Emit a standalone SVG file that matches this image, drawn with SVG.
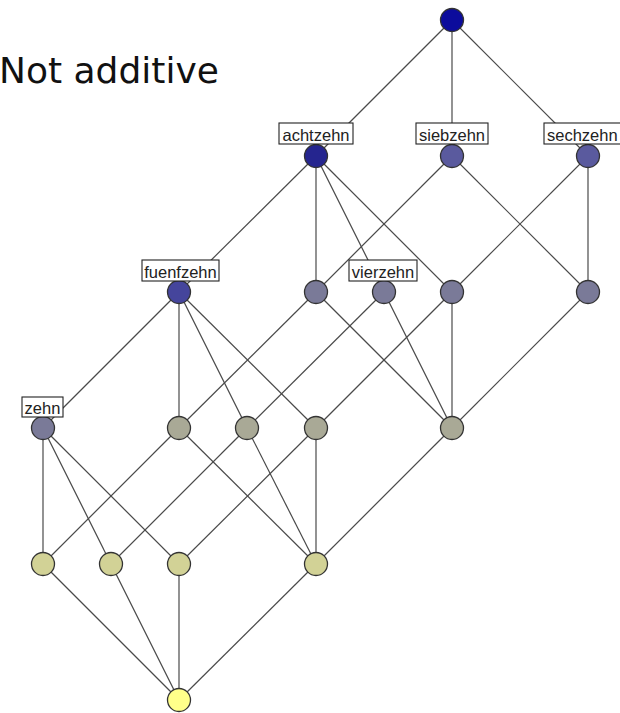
<svg xmlns="http://www.w3.org/2000/svg" width="620" height="713" viewBox="0 0 620 713">
  <style>
    .edge { stroke: #4a4a4a; stroke-width: 1.2; fill: none; }
    .node { stroke: #333333; stroke-width: 1.3; }
    .lbl-box { fill: #ffffff; stroke: #222222; stroke-width: 1.1; }
    .lbl { font-family: "Liberation Sans", Arial, sans-serif; font-size: 16.5px; fill: #222222; text-anchor: middle; }
    .title { font-family: "DejaVu Sans", Verdana, sans-serif; font-size: 36px; fill: #111111; }
    .c0 { fill: #0c0c9c; }
    .c1 { fill: #25258f; }
    .c2 { fill: #45459c; }
    .c3 { fill: #5a5a9e; }
    .c4 { fill: #7a7a98; }
    .c5 { fill: #a9a996; }
    .c6 { fill: #d2d296; }
    .c7 { fill: #ffff8a; }
  </style>
  <rect width="620" height="713" fill="#ffffff"/>

  <text class="title" x="-1" y="83">Not additive</text>

  <g id="connectors">
    <!-- top to first level -->
    <line class="edge" x1="452" y1="20" x2="316" y2="156"/>
    <line class="edge" x1="452" y1="20" x2="452" y2="156"/>
    <line class="edge" x1="452" y1="20" x2="588" y2="156"/>
    <!-- first level to second level -->
    <line class="edge" x1="316" y1="156" x2="179" y2="292"/>
    <line class="edge" x1="316" y1="156" x2="316" y2="292"/>
    <line class="edge" x1="316" y1="156" x2="384" y2="292"/>
    <line class="edge" x1="316" y1="156" x2="452" y2="292"/>
    <line class="edge" x1="452" y1="156" x2="316" y2="292"/>
    <line class="edge" x1="452" y1="156" x2="588" y2="292"/>
    <line class="edge" x1="588" y1="156" x2="452" y2="292"/>
    <line class="edge" x1="588" y1="156" x2="588" y2="292"/>
    <!-- second level to third level -->
    <line class="edge" x1="179" y1="292" x2="43" y2="428"/>
    <line class="edge" x1="179" y1="292" x2="179" y2="428"/>
    <line class="edge" x1="179" y1="292" x2="247" y2="428"/>
    <line class="edge" x1="179" y1="292" x2="316" y2="428"/>
    <line class="edge" x1="316" y1="292" x2="179" y2="428"/>
    <line class="edge" x1="316" y1="292" x2="452" y2="428"/>
    <line class="edge" x1="384" y1="292" x2="247" y2="428"/>
    <line class="edge" x1="384" y1="292" x2="452" y2="428"/>
    <line class="edge" x1="452" y1="292" x2="316" y2="428"/>
    <line class="edge" x1="452" y1="292" x2="452" y2="428"/>
    <line class="edge" x1="588" y1="292" x2="452" y2="428"/>
    <!-- third level to fourth level -->
    <line class="edge" x1="43" y1="428" x2="43" y2="564"/>
    <line class="edge" x1="43" y1="428" x2="111" y2="564"/>
    <line class="edge" x1="43" y1="428" x2="179" y2="564"/>
    <line class="edge" x1="179" y1="428" x2="43" y2="564"/>
    <line class="edge" x1="179" y1="428" x2="316" y2="564"/>
    <line class="edge" x1="247" y1="428" x2="111" y2="564"/>
    <line class="edge" x1="247" y1="428" x2="316" y2="564"/>
    <line class="edge" x1="316" y1="428" x2="179" y2="564"/>
    <line class="edge" x1="316" y1="428" x2="316" y2="564"/>
    <line class="edge" x1="452" y1="428" x2="316" y2="564"/>
    <!-- fourth level to bottom -->
    <line class="edge" x1="43" y1="564" x2="179" y2="700"/>
    <line class="edge" x1="111" y1="564" x2="179" y2="700"/>
    <line class="edge" x1="179" y1="564" x2="179" y2="700"/>
    <line class="edge" x1="316" y1="564" x2="179" y2="700"/>
  </g>

  <g id="n-top"><circle class="node c0" cx="452" cy="20" r="11.5"/></g>

  <g id="n-achtzehn">
    <circle class="node c1" cx="316" cy="156" r="11.5"/>
    <rect class="lbl-box" x="279" y="123" width="74" height="21"/>
    <text class="lbl" x="316" y="140.5">achtzehn</text>
  </g>
  <g id="n-siebzehn">
    <circle class="node c3" cx="452" cy="156" r="11.5"/>
    <rect class="lbl-box" x="416" y="123" width="72" height="21"/>
    <text class="lbl" x="452" y="140.5">siebzehn</text>
  </g>
  <g id="n-sechzehn">
    <circle class="node c3" cx="588" cy="156" r="11.5"/>
    <rect class="lbl-box" x="544" y="123" width="80" height="21"/>
    <text class="lbl" x="547" y="140.5" style="text-anchor:start">sechzehn</text>
  </g>

  <g id="n-fuenfzehn">
    <circle class="node c2" cx="179" cy="292" r="11.5"/>
    <rect class="lbl-box" x="142" y="260" width="77" height="21"/>
    <text class="lbl" x="180.5" y="277.5">fuenfzehn</text>
  </g>
  <g id="n-l2b"><circle class="node c4" cx="316" cy="292" r="11.5"/></g>
  <g id="n-vierzehn">
    <circle class="node c4" cx="384" cy="292" r="11.5"/>
    <rect class="lbl-box" x="349" y="260" width="68" height="21"/>
    <text class="lbl" x="383" y="277.5">vierzehn</text>
  </g>
  <g id="n-l2d"><circle class="node c4" cx="452" cy="292" r="11.5"/></g>
  <g id="n-l2e"><circle class="node c4" cx="588" cy="292" r="11.5"/></g>

  <g id="n-zehn">
    <circle class="node c4" cx="43" cy="428" r="11.5"/>
    <rect class="lbl-box" x="22" y="397" width="41" height="20"/>
    <text class="lbl" x="42.5" y="413.5">zehn</text>
  </g>
  <g id="n-l3b"><circle class="node c5" cx="179" cy="428" r="11.5"/></g>
  <g id="n-l3c"><circle class="node c5" cx="247" cy="428" r="11.5"/></g>
  <g id="n-l3d"><circle class="node c5" cx="316" cy="428" r="11.5"/></g>
  <g id="n-l3e"><circle class="node c5" cx="452" cy="428" r="11.5"/></g>

  <g id="n-l4a"><circle class="node c6" cx="43" cy="564" r="11.5"/></g>
  <g id="n-l4b"><circle class="node c6" cx="111" cy="564" r="11.5"/></g>
  <g id="n-l4c"><circle class="node c6" cx="179" cy="564" r="11.5"/></g>
  <g id="n-l4d"><circle class="node c6" cx="316" cy="564" r="11.5"/></g>

  <g id="n-bottom"><circle class="node c7" cx="179" cy="700" r="11.5"/></g>
</svg>
